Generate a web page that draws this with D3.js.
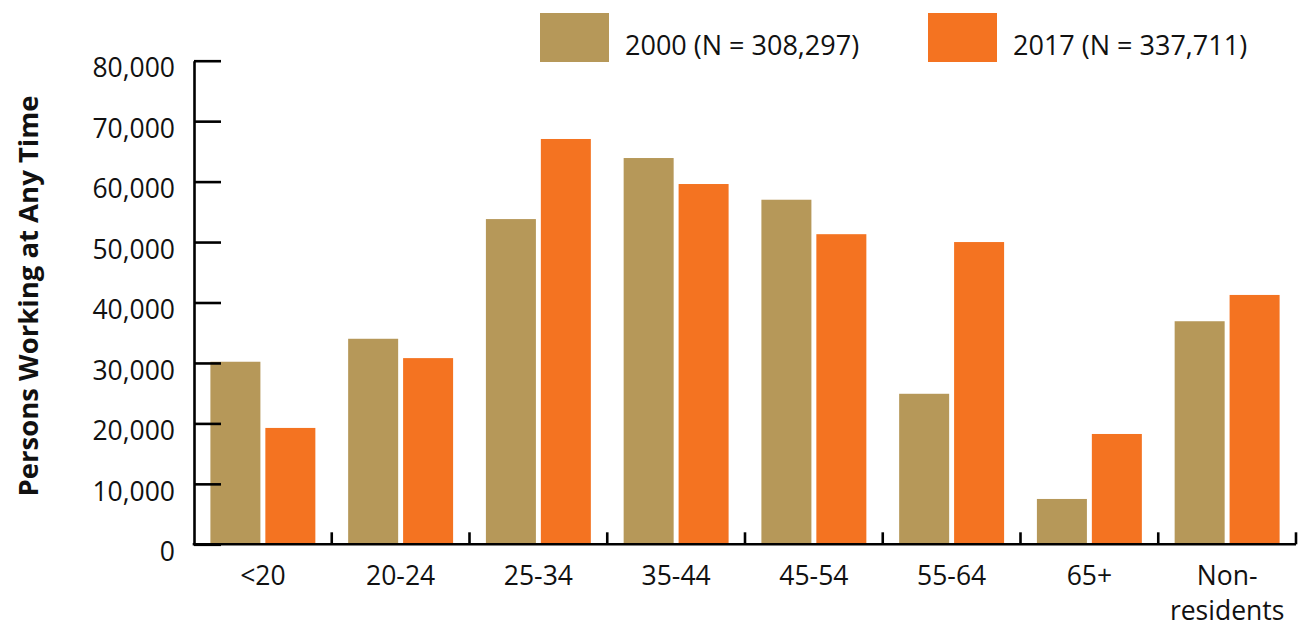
<!DOCTYPE html>
<html>
<head>
<meta charset="utf-8">
<script src="https://cdn.jsdelivr.net/npm/d3@7"></script>
<style>
  body { margin: 0; background: #fff; }
  text { font-family: "Open Sans", "Noto Sans", sans-serif; fill: #111; }
</style>
</head>
<body>
<div id="chart"></div>
<script>
// age groups and the two survey years
const categories = ["<20", "20-24", "25-34", "35-44", "45-54", "55-64", "65+", "Non-\nresidents"];
const series = ["2000", "2017"];
const seriesLabels = ["2000 (N = 308,297)", "2017 (N = 337,711)"];
const values2000 = [30200, 34000, 53800, 63900, 57000, 24900, 7500, 36900];
const values2017 = [19250, 30800, 67050, 59600, 51300, 50000, 18250, 41250];
const yTicks = [0, 10000, 20000, 30000, 40000, 50000, 60000, 70000, 80000];
const colors = ["#b69859", "#f47321"];

const width = 1299;
const height = 627;
const margin = { top: 60.7, right: 3, bottom: 82.7, left: 194 };

const data = categories.map((c, i) => ({
  label: c,
  values: [values2000[i], values2017[i]],
}));

const svg = d3
  .select("#chart")
  .append("svg")
  .attr("width", width)
  .attr("height", height);

const x0 = d3
  .scaleBand()
  .domain(categories)
  .range([margin.left, width - margin.right])
  .padding(0);

// two bars in each group, 50px wide with a small gap
const x1 = d3
  .scaleBand()
  .domain(series)
  .range([16.4, x0.bandwidth() - 16.4])
  .paddingInner(0.09);

const y = d3
  .scaleLinear()
  .domain([0, 80000])
  .range([height - margin.bottom, margin.top]);

const color = d3.scaleOrdinal().domain(series).range(colors);

// bars
const groups = svg
  .selectAll("g.group")
  .data(data)
  .enter()
  .append("g")
  .attr("class", "group")
  .attr("transform", (d) => `translate(${x0(d.label)},0)`);

groups
  .selectAll("rect")
  .data((d) => d.values.map((v, i) => ({ key: series[i], value: v })))
  .enter()
  .append("rect")
  .attr("x", (d) => x1(d.key))
  .attr("y", (d) => y(d.value))
  .attr("width", x1.bandwidth())
  .attr("height", (d) => y(0) - y(d.value))
  .style("fill", (d) => color(d.key));

// y axis, ticks point inward
const yAxis = svg
  .append("g")
  .attr("transform", `translate(${margin.left},0)`)
  .call(
    d3
      .axisLeft(y)
      .tickValues(yTicks)
      .tickSize(-27)
      .tickSizeOuter(0)
      .tickPadding(19)
      .tickFormat(d3.format(","))
  );
yAxis.selectAll(".domain, .tick line").attr("stroke", "#000").attr("stroke-width", 2.6);
yAxis
  .selectAll(".tick text")
  .attr("dy", "0.35em")
  .attr("y", 7)
  .style("font-size", "26.5px");

// x axis line
svg
  .append("line")
  .attr("x1", margin.left - 1.3)
  .attr("x2", width - margin.right)
  .attr("y1", y(0))
  .attr("y2", y(0))
  .attr("stroke", "#000")
  .attr("stroke-width", 2.6);

// group separators on the x axis
svg
  .selectAll("line.sep")
  .data(categories)
  .enter()
  .append("line")
  .attr("class", "sep")
  .attr("x1", (d) => x0(d) + x0.bandwidth())
  .attr("x2", (d) => x0(d) + x0.bandwidth())
  .attr("y1", y(0))
  .attr("y2", y(0) - 12)
  .attr("stroke", "#000")
  .attr("stroke-width", 2.6);

// category labels
const xLabels = svg
  .selectAll("text.xlab")
  .data(categories)
  .enter()
  .append("text")
  .attr("class", "xlab")
  .attr("text-anchor", "middle")
  .style("font-size", "26.5px");

xLabels
  .selectAll("tspan")
  .data((d) => d.split("\n").map((t) => ({ t, c: d })))
  .enter()
  .append("tspan")
  .attr("x", (d) => x0(d.c) + x0.bandwidth() / 2)
  .attr("y", (d, i) => 576 + i * 35)
  .attr("dy", "0.35em")
  .text((d) => d.t);

// y axis title
svg
  .append("text")
  .attr("transform", "rotate(-90)")
  .attr("x", -296)
  .attr("y", 28)
  .attr("dy", "0.35em")
  .attr("text-anchor", "middle")
  .style("font-size", "27.5px")
  .style("font-weight", "bold")
  .text("Persons Working at Any Time");

// legend
const legendX = [540, 928];
const legend = svg
  .selectAll("g.legend")
  .data(series)
  .enter()
  .append("g")
  .attr("class", "legend")
  .attr("transform", (d, i) => `translate(${legendX[i]},13)`);

legend
  .append("rect")
  .attr("width", 69)
  .attr("height", 49)
  .style("fill", (d) => color(d));

legend
  .append("text")
  .attr("x", 85)
  .attr("y", 33)
  .attr("dy", "0.35em")
  .style("font-size", "27px")
  .text((d, i) => seriesLabels[i]);
</script>
</body>
</html>
